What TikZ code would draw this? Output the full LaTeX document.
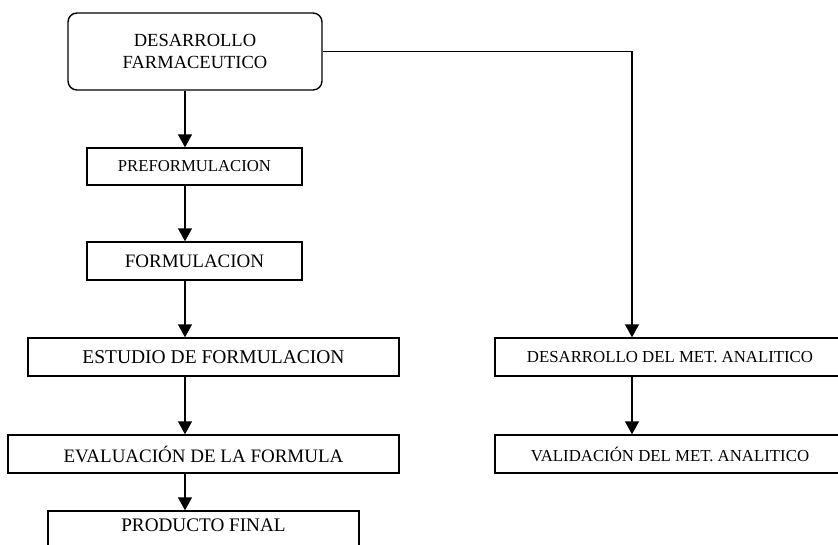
\documentclass[tikz,border=0pt]{standalone}
\usepackage{fontspec}
\setmainfont{Liberation Serif}
\usetikzlibrary{arrows.meta}
\tikzset{
  boxstyle/.style={draw, line width=1.4pt, inner sep=0pt, align=center},
  arr/.style={line width=1.4pt, -{Triangle[length=13pt,width=14pt]}},
  ln/.style={line width=1.4pt},
  fs/.style={font=\fontsize{#1}{23}\selectfont}
}
\begin{document}
\begin{tikzpicture}[x=1pt,y=-1pt]
\clip (0,0) rectangle (838,544);
\fill[white] (0,0) rectangle (838,544);
% left column
\node[boxstyle, rounded corners=9pt, minimum width=254pt, minimum height=77pt, fs=18.5] (top) at (195,51.5) {DESARROLLO\\[-1pt]FARMACEUTICO};
\node[boxstyle, minimum width=215pt, minimum height=37pt, fs=16.7] (pre) at (194.5,166.5) {PREFORMULACION};
\node[boxstyle, minimum width=215pt, minimum height=38pt, fs=19] (form) at (194.5,261) {FORMULACION};
\node[boxstyle, minimum width=371pt, minimum height=38pt, fs=19.5] (est) at (213.5,357) {ESTUDIO DE FORMULACION};
\node[boxstyle, minimum width=391pt, minimum height=38pt, fs=19] (eval) at (203.5,454) {EVALUACIÓN DE LA FORMULA};
\node[boxstyle, minimum width=311pt, minimum height=38pt, text depth=10pt, fs=19.2] (prod) at (203.5,530) {PRODUCTO FINAL};
% right column
\node[boxstyle, minimum width=350pt, minimum height=38pt, fs=16.8] (dma) at (670,357) {DESARROLLO DEL MET. ANALITICO};
\node[boxstyle, minimum width=350pt, minimum height=38pt, fs=16.8] (val) at (670,454) {VALIDACIÓN DEL MET. ANALITICO};
% connector columns
\coordinate (lx) at (185,0);
\coordinate (rx) at (632,0);
\draw[arr] (top.south -| lx) -- (pre.north -| lx);
\draw[arr] (pre.south -| lx) -- (form.north -| lx);
\draw[arr] (form.south -| lx) -- (est.north -| lx);
\draw[arr] (est.south -| lx) -- (eval.north -| lx);
\draw[arr] (eval.south -| lx) -- (prod.north -| lx);
\draw[arr] (top.east) -| (dma.north -| rx);
\draw[arr] (dma.south -| rx) -- (val.north -| rx);
\end{tikzpicture}
\end{document}
